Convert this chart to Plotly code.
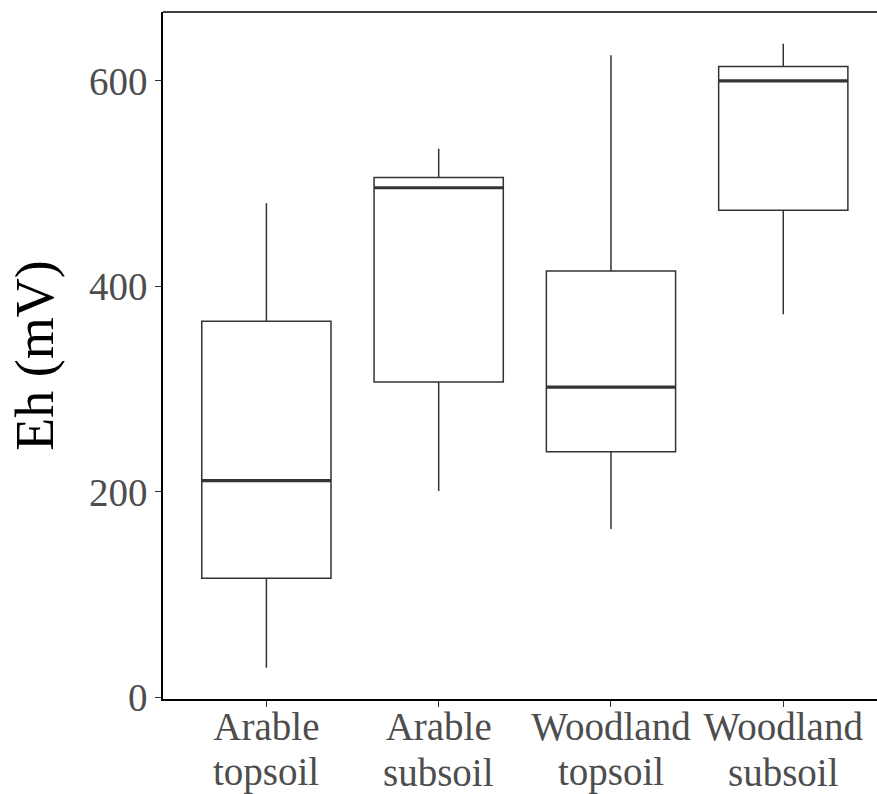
import plotly.graph_objects as go

label_line1 = ["Arable", "Arable", "Woodland", "Woodland"]
label_line2 = ["topsoil", "subsoil", "topsoil", "subsoil"]
lower_whisker = [29, 201, 164, 373]
q1_values = [116, 307, 239, 474]
median_values = [211, 496, 302, 600]
q3_values = [366, 506, 415, 614]
upper_whisker = [481, 534, 625, 636]
y_ticks = [0, 200, 400, 600]

positions = list(range(len(label_line1)))
half_width = 0.375
FONT = "Liberation Serif"

fig = go.Figure()
fig.add_trace(go.Box(
    x=positions,
    q1=q1_values,
    median=median_values,
    q3=q3_values,
    lowerfence=lower_whisker,
    upperfence=upper_whisker,
    width=0.75,
    whiskerwidth=0,
    fillcolor="white",
    line=dict(color="#333333", width=1.5),
    boxpoints=False,
    showlegend=False,
    hoverinfo="skip",
))

mx, my = [], []
for p, m in zip(positions, median_values):
    mx += [p - half_width, p + half_width, None]
    my += [m, m, None]
fig.add_trace(go.Scatter(x=mx, y=my, mode="lines",
                         line=dict(color="#333333", width=3.2),
                         showlegend=False, hoverinfo="skip"))

fig.add_shape(type="line", xref="paper", yref="paper", x0=0, x1=1, y0=1, y1=1,
              line=dict(color="black", width=1.5))

# second line of the category labels (tighter line spacing than Plotly's <br>)
for p, t in zip(positions, label_line2):
    fig.add_annotation(x=p, xref="x", y=0, yref="paper", text=t, showarrow=False,
                       xanchor="center", yanchor="middle", yshift=-73,
                       font=dict(family=FONT, size=39, color="#4d4d4d"))

fig.update_layout(
    width=877, height=794,
    margin=dict(l=163, r=0, t=12, b=95),
    plot_bgcolor="white", paper_bgcolor="white",
    font=dict(family=FONT, color="#4d4d4d", size=39),
    xaxis=dict(
        range=[-0.6, 3.544],
        automargin=False,
        tickmode="array", tickvals=positions, ticktext=label_line1,
        showline=True, linecolor="black", linewidth=1.5,
        ticks="outside", ticklen=6, tickcolor="#333333", tickwidth=1.2,
        ticklabelstandoff=-14,
        showgrid=False, zeroline=False,
        tickfont=dict(family=FONT, size=39, color="#4d4d4d"),
    ),
    yaxis=dict(
        range=[-1.5, 667],
        automargin=False,
        tickmode="array", tickvals=y_ticks,
        showline=True, linecolor="black", linewidth=1.5,
        ticks="outside", ticklen=6, tickcolor="#333333", tickwidth=1.2,
        showgrid=False, zeroline=False,
        tickfont=dict(family=FONT, size=39, color="#4d4d4d"),
        title=dict(text="Eh (mV)", font=dict(family=FONT, size=54, color="black"),
                   standoff=18),
    ),
)

fig.write_html("out.html")
